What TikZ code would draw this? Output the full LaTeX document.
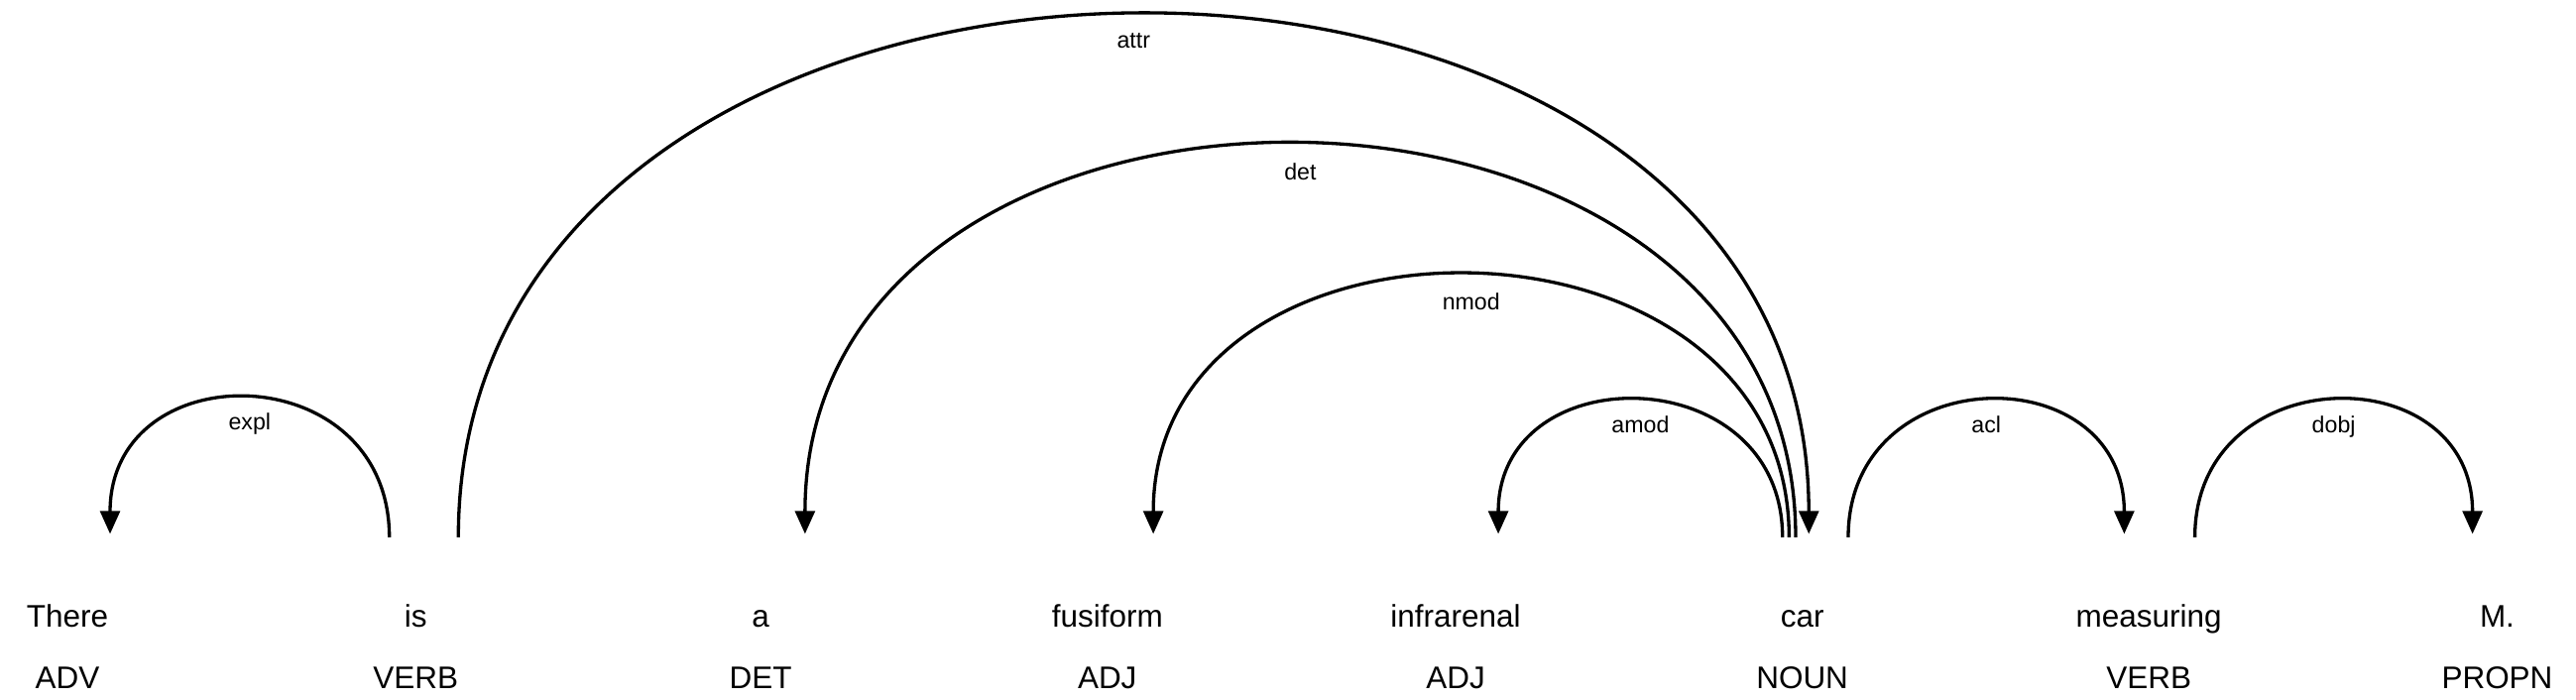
\documentclass[tikz,border=0pt]{standalone}
\usepackage{fontspec}
\setmainfont{Liberation Sans}
\usetikzlibrary{arrows.meta}
\begin{document}
\begin{tikzpicture}[x=1pt,y=-1pt,
  word/.style={font=\fontsize{19}{21}\selectfont,inner sep=0pt,anchor=base},
  lab/.style={font=\fontsize{14}{15}\selectfont,inner sep=0pt},
  arc/.style={line width=2pt,-{Triangle[width=12pt,length=14pt]}}]
\useasboundingbox (0,0) rectangle (1568,426);
\foreach \n/\x/\w/\t in {w1/41/There/ADV,w2/253/is/VERB,w3/463/a/DET,w4/674/fusiform/ADJ,w5/886/infrarenal/ADJ,w6/1097/car/NOUN,w7/1308/measuring/VERB,w8/1520/M./PROPN}{
  \node[word] (\n) at (\x,382) {\w};
  \node[word] (t\n) at (\x,419) {\t};
}
\foreach \n/\x in {s1/237,e1/67,s2/279,e2/1101,s3/1093,e3/490,s4/1089,e4/702,s5/1085,e5/912,s6/1125,e6/1293,s7/1336,e7/1505}{
  \coordinate (\n) at (\x,327);
}
\draw[arc] (s1) .. controls ++(0,-111) and ++(0,-111) .. ([yshift=2pt]e1) node[lab,pos=0.5,below=8pt] {expl};
\draw[arc] (s2) .. controls ++(0,-422) and ++(0,-422) .. ([yshift=2pt]e2) node[lab,pos=0.5,below=10pt] {attr};
\draw[arc] (s3) .. controls ++(0,-317) and ++(0,-317) .. ([yshift=2pt]e3) node[lab,pos=0.5,below=10pt] {det};
\draw[arc] (s4) .. controls ++(0,-211) and ++(0,-211) .. ([yshift=2pt]e4) node[lab,pos=0.5,below=10pt] {nmod};
\draw[arc] (s5) .. controls ++(0,-109) and ++(0,-109) .. ([yshift=2pt]e5) node[lab,pos=0.5,below=8pt] {amod};
\draw[arc] (s6) .. controls ++(0,-109) and ++(0,-109) .. ([yshift=2pt]e6) node[lab,pos=0.5,below=8pt] {acl};
\draw[arc] (s7) .. controls ++(0,-109) and ++(0,-109) .. ([yshift=2pt]e7) node[lab,pos=0.5,below=8pt] {dobj};
\end{tikzpicture}
\end{document}
